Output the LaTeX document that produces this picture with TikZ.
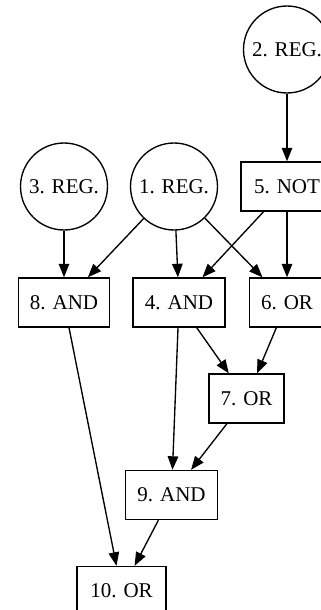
\documentclass[tikz,border=0pt]{standalone}
\usepackage{fontspec}
\setmainfont{Liberation Serif}
\usetikzlibrary{arrows.meta}

\begin{document}
\begin{tikzpicture}[x=0.6667pt, y=-0.6667pt,
        font=\fontsize{14}{17}\selectfont,
        reg/.style={draw, circle, minimum size=58pt, inner sep=0pt, line width=0.9pt},
        gate/.style={draw, rectangle, minimum height=32.7pt, inner sep=0pt, line width=0.9pt},
        wire/.style={-{Triangle[length=9pt,width=7pt]}, line width=0.9pt}]
            \useasboundingbox (0,0) rectangle (321,610);
            \clip (0,0) rectangle (321,610);

            \node[reg] (reg2) at (287,49.5) {2. REG.};
            \node[reg] (reg3) at (64,186.5) {3. REG.};
            \node[reg] (reg1) at (174,186.5) {1. REG.};
            \node[gate, minimum width=61.3pt] (not5) at (287,186.5) {5. NOT};

            \node[gate, minimum width=61pt] (and8) at (64,302.5) {8. AND};
            \node[gate, minimum width=61.3pt] (and4) at (179,302.5) {4. AND};
            \node[gate, minimum width=50pt] (or6) at (287,302.5) {6. OR};
            \node[gate, minimum width=50pt] (or7) at (246.5,398.5) {7. OR};
            \node[gate, minimum width=61pt] (and9) at (171.5,495) {9. AND};
            \node[gate, minimum width=59.3pt] (or10) at (121.5,591) {10. OR};

            \draw[wire] (reg2) -- (not5);
            \draw[wire] (reg3) -- (and8);
            \draw[wire] (reg1) -- (and8);
            \draw[wire] (reg1) -- (and4);
            \draw[wire] (reg1) -- (or6);
            \draw[wire] (not5) -- (and4);
            \draw[wire] (not5) -- (or6);
            \draw[wire] (and4) -- (or7);
            \draw[wire] (or6) -- (or7);
            \draw[wire] (and4) -- (and9);
            \draw[wire] (or7) -- (and9);
            \draw[wire] (and8) -- (or10);
            \draw[wire] (and9) -- (or10);
        \end{tikzpicture}
\end{document}
